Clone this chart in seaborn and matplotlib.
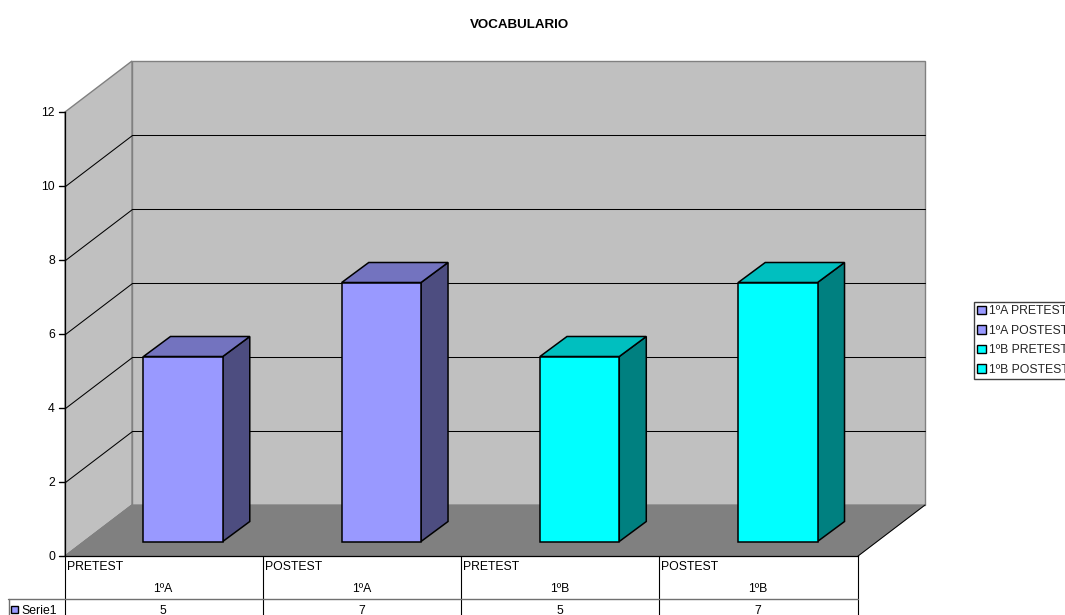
import matplotlib
matplotlib.use("Agg")
import matplotlib.pyplot as plt
from matplotlib.patches import Patch, Polygon
from matplotlib.transforms import Affine2D
import pandas as pd
import seaborn as sns

# Chart data
groups = ["1ºA", "1ºA", "1ºB", "1ºB"]
tests = ["PRETEST", "POSTEST", "PRETEST", "POSTEST"]
values = [5, 7, 5, 7]
series_name = "Serie1"
legend_labels = ["1ºA PRETEST", "1ºA POSTEST", "1ºB PRETEST", "1ºB POSTEST"]
front_colors = ["#9999FF", "#9999FF", "#00FFFF", "#00FFFF"]
side_colors = ["#4D4D80", "#4D4D80", "#008080", "#008080"]
top_colors = ["#7373BF", "#7373BF", "#00BFBF", "#00BFBF"]
y_ticks = [0, 2, 4, 6, 8, 10, 12]

W, H = 1065, 615
LEFT, RIGHT, BASE, TOP = 65, 858, 556, 112

sns.set_theme(style="white")
plt.rcParams["font.family"] = ["Liberation Sans", "DejaVu Sans"]

fig = plt.figure(figsize=(W / 100, H / 100), dpi=100, facecolor="white")
ax = fig.add_axes([LEFT / W, 1 - BASE / H, (RIGHT - LEFT) / W, (BASE - TOP) / H])
ax.patch.set_visible(False)

df = pd.DataFrame({"label": legend_labels, "value": values})
sns.barplot(data=df, x="label", y="value", hue="label", palette=front_colors,
            saturation=1, width=0.4, legend=False, dodge=False, edgecolor="black",
            linewidth=1.1, ax=ax, zorder=5)
ax.set_xlim(-0.5, 3.5)
ax.set_ylim(0, 12)
ax.set_xlabel("")
ax.set_ylabel("")

# Oblique depth of the box and of the bars, in data units
unit_x = (RIGHT - LEFT) / 4
unit_y = (BASE - TOP) / 12
wall_dx, wall_dy = 67 / unit_x, 51 / unit_y
bar_dx, bar_dy = 19 / unit_x, 14.5 / unit_y
depth_dx, depth_dy = 27 / unit_x, 20 / unit_y

x0, x1 = ax.get_xlim()
y0, y1 = ax.get_ylim()


def add_poly(points, face, edge, lw, z):
    ax.add_patch(Polygon(points, closed=True, facecolor=face, edgecolor=edge,
                         linewidth=lw, zorder=z, clip_on=False, joinstyle="miter"))


# Back wall, side wall and floor
add_poly([(x0 + wall_dx, y0 + wall_dy), (x1 + wall_dx, y0 + wall_dy),
          (x1 + wall_dx, y1 + wall_dy), (x0 + wall_dx, y1 + wall_dy)],
         "#C0C0C0", "#808080", 1.0, 1)
add_poly([(x0, y0), (x0 + wall_dx, y0 + wall_dy),
          (x0 + wall_dx, y1 + wall_dy), (x0, y1)],
         "#C0C0C0", "#808080", 1.0, 1)
add_poly([(x0, y0), (x1, y0), (x1 + wall_dx, y0 + wall_dy), (x0 + wall_dx, y0 + wall_dy)],
         "#808080", "#808080", 0.8, 1.5)
ax.plot([x1, x1 + wall_dx], [y0, y0 + wall_dy], color="black", lw=0.7,
        zorder=1.6, clip_on=False)
ax.plot([x0, x0 + wall_dx], [y0, y0 + wall_dy], color="#808080", lw=0.7,
        zorder=1.6, clip_on=False)

# Gridlines run along the side wall and across the back wall
for t in y_ticks[1:-1]:
    ax.plot([x0, x0 + wall_dx, x1 + wall_dx],
            [t, t + wall_dy, t + wall_dy],
            color="black", lw=0.75, zorder=2, clip_on=False,
            solid_joinstyle="miter", snap=True)

# Give each seaborn bar its depth and push it into the box
shift = Affine2D().translate(bar_dx, bar_dy) + ax.transData
for bar, side, top_c in zip(ax.patches, side_colors, top_colors):
    bar.set_transform(shift)
    bar.set_clip_on(False)
    bx, bw, bh = bar.get_x(), bar.get_width(), bar.get_height()
    right = bx + bw + bar_dx
    low = bar_dy
    high = bh + bar_dy
    add_poly([(right, low), (right + depth_dx, low + depth_dy),
              (right + depth_dx, high + depth_dy), (right, high)],
             side, "black", 1.1, 4)
    add_poly([(bx + bar_dx, high), (right, high),
              (right + depth_dx, high + depth_dy),
              (bx + bar_dx + depth_dx, high + depth_dy)],
             top_c, "black", 1.1, 4)

# Value axis
for name, spine in ax.spines.items():
    spine.set_visible(name in ("left", "bottom"))
    spine.set_color("black")
    spine.set_linewidth(0.9)
    spine.set_zorder(6)
ax.set_yticks(y_ticks)
ax.tick_params(axis="y", which="major", left=False, length=0, labelsize=8.8, pad=7.2,
               labelcolor="black")
ax.set_xticks([])

# Everything below is positioned in pixels from the top-left corner
px = Affine2D().scale(1, -1).translate(0, H)

# Tick marks left of the value axis
for t in y_ticks:
    y_px = BASE - t * unit_y
    fig.add_artist(plt.Line2D([LEFT - 6.5, LEFT], [y_px, y_px], color="black",
                              lw=1.0, transform=px, zorder=10))

# Data table underneath the plot
fs = 8.8
edges = [LEFT + i * unit_x for i in range(5)]
for e in edges:
    fig.add_artist(plt.Line2D([e - 0.5, e - 0.5], [BASE, H], color="black", lw=0.8, transform=px))
fig.add_artist(plt.Line2D([8, RIGHT], [598.5, 598.5], color="#707070", lw=1.0, transform=px))
fig.add_artist(plt.Line2D([8.5, 8.5], [598.5, H], color="#707070", lw=1.0, transform=px))
for i, (test, group, value) in enumerate(zip(tests, groups, values)):
    fig.text(edges[i] + 1.5, 567.5, test, transform=px, fontsize=fs, ha="left", va="center", color="black")
    cx = edges[i] + unit_x / 2
    fig.text(cx - 1, 589, group, transform=px, fontsize=fs, ha="center", va="center", color="black")
    fig.text(cx - 1, 611, str(value), transform=px, fontsize=fs, ha="center", va="center", color="black")
fig.add_artist(plt.Rectangle((11, 606), 7, 7, transform=px, facecolor="#9999FF",
                             edgecolor="black", linewidth=1.0))
fig.text(21.5, 611.5, series_name, transform=px, fontsize=fs, ha="left", va="center", color="black")

fig.text(519.5, 25.5, "VOCABULARIO", transform=px, fontsize=9.6, fontweight="bold",
         ha="center", va="center", color="black")

# Legend sits against the right edge of the figure
handles = [Patch(facecolor=c, edgecolor="black", linewidth=1.0) for c in front_colors]
leg = fig.legend(handles, legend_labels, loc="upper left",
                 bbox_to_anchor=(974 / W, 1 - 302 / H), fontsize=fs, frameon=True,
                 fancybox=False, edgecolor="#404040", framealpha=1,
                 handlelength=0.7, handleheight=0.7, handletextpad=0.25,
                 labelspacing=0.615, borderpad=0.27, borderaxespad=0)
leg.get_frame().set_linewidth(1.0)

fig.savefig("out.png", dpi=100)
